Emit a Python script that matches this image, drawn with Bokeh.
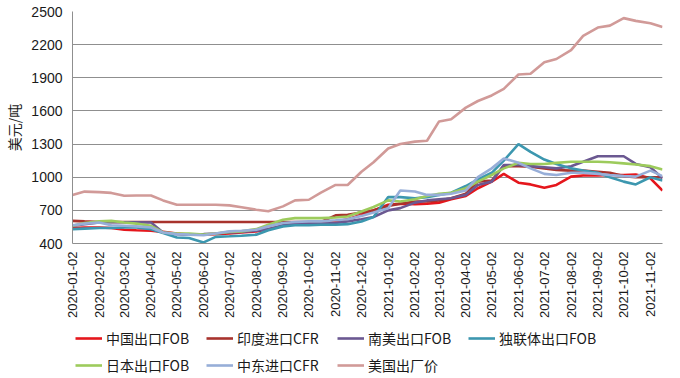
import math
import pandas as pd
from bokeh.plotting import figure
from bokeh.layouts import column
from bokeh.models import (FixedTicker, DatetimeTickFormatter, Legend, LegendItem,
                          Range1d, ColumnDataSource)
from bokeh.embed import file_html
from bokeh.resources import INLINE

dates = ["2020-01-02", "2020-01-16", "2020-02-02", "2020-02-16", "2020-03-02", "2020-03-16",
         "2020-04-02", "2020-04-16", "2020-05-02", "2020-05-16", "2020-06-02", "2020-06-16",
         "2020-07-02", "2020-07-16", "2020-08-02", "2020-08-16", "2020-09-02", "2020-09-16",
         "2020-10-02", "2020-10-16", "2020-11-02", "2020-11-16", "2020-12-02", "2020-12-16",
         "2021-01-02", "2021-01-16", "2021-02-02", "2021-02-16", "2021-03-02", "2021-03-16",
         "2021-04-02", "2021-04-16", "2021-05-02", "2021-05-16", "2021-06-02", "2021-06-16",
         "2021-07-02", "2021-07-16", "2021-08-02", "2021-08-16", "2021-09-02", "2021-09-16",
         "2021-10-02", "2021-10-16", "2021-11-02", "2021-11-16"]

china_fob = [540, 545, 545, 540, 525, 520, 515, 505, 490, 480, 480, 485, 490, 500, 510, 530,
             560, 575, 580, 585, 600, 620, 660, 700, 750, 760, 755, 760, 770, 800, 830, 900,
             960, 1030, 950, 935, 905, 930, 1005, 1015, 1015, 1020, 1020, 1025, 990, 880]
india_cfr = [605, 600, 595, 595, 595, 595, 595, 595, 595, 595, 595, 595, 595, 595, 595, 595,
             595, 595, 595, 595, 655, 660, 680, 700, 740, 760, 780, 780, 790, 810, 850, 960,
             970, 1100, 1100, 1095, 1080, 1065, 1060, 1060, 1050, 1040, 1010, 1000, 1000, 1000]
samerica_fob = [560, 575, 590, 592, 592, 592, 590, 500, 485, 480, 485, 490, 500, 505, 515, 530,
                565, 575, 580, 580, 585, 600, 620, 640, 700, 720, 770, 790, 800, 810, 840, 930,
                960, 1110, 1110, 1100, 1090, 1080, 1100, 1140, 1190, 1190, 1190, 1120, 1090, 990]
cis_fob = [530, 535, 540, 540, 545, 545, 530, 495, 455, 450, 410, 460, 465, 470, 480, 520,
           555, 565, 565, 570, 570, 575, 600, 640, 820, 820, 810, 820, 840, 860, 920, 980,
           1040, 1150, 1300, 1230, 1160, 1120, 1080, 1060, 1040, 1000, 960, 935, 1000, 970]
japan_fob = [560, 585, 600, 605, 590, 580, 560, 500, 490, 490, 480, 490, 505, 510, 530, 570,
             615, 630, 630, 630, 635, 645, 690, 730, 790, 780, 800, 830, 850, 860, 900, 960,
             1020, 1080, 1130, 1120, 1120, 1130, 1140, 1140, 1140, 1135, 1125, 1115, 1100, 1070]
mideast_cfr = [565, 580, 590, 565, 560, 555, 545, 500, 485, 480, 475, 490, 510, 515, 525, 555,
               585, 595, 600, 600, 610, 620, 650, 680, 720, 880, 870, 840, 840, 850, 880, 1000,
               1080, 1170, 1130, 1080, 1030, 1020, 1040, 1040, 1030, 1020, 1010, 1005, 1060, 1010]
us_price = [840, 870, 865, 858, 832, 835, 835, 790, 751, 751, 751, 751, 745, 728, 706, 692,
            736, 790, 796, 860, 930, 930, 1050, 1135, 1260, 1300, 1322, 1330, 1505, 1525, 1630, 1690,
            1740, 1800, 1930, 1936, 2040, 2070, 2150, 2280, 2355, 2372, 2440, 2415, 2394, 2359]

series_names = ["中国出口FOB", "印度进口CFR", "南美出口FOB", "独联体出口FOB",
                "日本出口FOB", "中东进口CFR", "美国出厂价"]
series_values = [china_fob, india_cfr, samerica_fob, cis_fob, japan_fob, mideast_cfr, us_price]
series_colors = ["#E5161C", "#A8332D", "#6B5891", "#3C97AF", "#9DCB5C", "#97AED8", "#D19A98"]

tick_dates = ["2020-01-02", "2020-02-02", "2020-03-02", "2020-04-02", "2020-05-02", "2020-06-02",
              "2020-07-02", "2020-08-02", "2020-09-02", "2020-10-02", "2020-11-02", "2020-12-02",
              "2021-01-02", "2021-02-02", "2021-03-02", "2021-04-02", "2021-05-02", "2021-06-02",
              "2021-07-02", "2021-08-02", "2021-09-02", "2021-10-02", "2021-11-02"]
y_ticks = [400, 700, 1000, 1300, 1600, 1900, 2200, 2500]

x = pd.to_datetime(dates)
tick_ms = [pd.Timestamp(d).value // 10**6 for d in tick_dates]

p = figure(width=680, height=320, x_axis_type="datetime", output_backend="svg",
           toolbar_location=None, min_border_left=72, min_border_right=18,
           min_border_top=11, min_border_bottom=74,
           x_range=Range1d(x[0], x[-1]), y_range=Range1d(400, 2500))

sources = []
for name, vals, col in zip(series_names, series_values, series_colors):
    src = ColumnDataSource(dict(x=x, y=vals))
    sources.append(src)
    p.line("x", "y", source=src, line_color=col, line_width=2.6)

p.outline_line_color = None
p.background_fill_color = "white"
p.xgrid.grid_line_color = None
p.ygrid.ticker = FixedTicker(ticks=y_ticks)
p.ygrid.grid_line_color = "#8f8f8f"
p.ygrid.grid_line_width = 1

p.yaxis.ticker = FixedTicker(ticks=y_ticks)
p.yaxis.axis_label = "美元/吨"
p.yaxis.axis_label_text_font = "Noto Sans CJK SC"
p.yaxis.axis_label_text_font_style = "normal"
p.yaxis.axis_label_text_font_size = "14px"
p.yaxis.axis_label_text_color = "#1a1a1a"
p.yaxis.axis_label_standoff = 4
p.yaxis.major_label_text_font = "Liberation Sans"
p.yaxis.major_label_text_font_size = "14px"
p.yaxis.major_label_text_color = "#1a1a1a"
p.yaxis.major_label_standoff = 10
p.yaxis.major_tick_out = 0
p.yaxis.major_tick_in = 0
p.yaxis.minor_tick_out = 0
p.yaxis.minor_tick_in = 0
p.yaxis.axis_line_color = "#8f8f8f"

p.xaxis.ticker = FixedTicker(ticks=tick_ms)
fmt = "%Y-%m-%d"
p.xaxis.formatter = DatetimeTickFormatter(microseconds=fmt, milliseconds=fmt, seconds=fmt,
                                          minsec=fmt, minutes=fmt, hourmin=fmt, hours=fmt,
                                          days=fmt, months=fmt, years=fmt)
p.xaxis.major_label_orientation = math.pi / 2
p.xaxis.major_label_text_font = "Liberation Sans"
p.xaxis.major_label_text_font_size = "13px"
p.xaxis.major_label_text_color = "#1a1a1a"
p.xaxis.major_label_standoff = 8
p.xaxis.major_tick_out = 0
p.xaxis.major_tick_in = 0
p.xaxis.minor_tick_out = 0
p.xaxis.minor_tick_in = 0
p.xaxis.axis_line_color = "#8f8f8f"

# legend panel: a second figure under the chart; its renderers reuse the series
# sources but lie outside its ranges, so only their legend glyphs are visible
p2 = figure(width=680, height=58, output_backend="svg", toolbar_location=None,
            min_border=0, x_axis_location=None, y_axis_location=None,
            x_range=Range1d(0, 1), y_range=Range1d(0, 1))
p2.outline_line_color = None
p2.grid.visible = False
items = []
for name, col, src in zip(series_names, series_colors, sources):
    r = p2.line("x", "y", source=src, line_color=col, line_width=2.6)
    items.append(LegendItem(label=name, renderers=[r]))

legend = Legend(items=items, location="bottom_left", orientation="horizontal", ncols=4,
                glyph_width=27, glyph_height=18, label_height=18, label_width=93,
                label_standoff=4, spacing=7, padding=0, margin=3,
                label_text_font="Noto Sans CJK SC", label_text_font_size="14px",
                label_text_color="#1a1a1a",
                border_line_alpha=0, background_fill_alpha=0)
p2.add_layout(legend, "center")

layout = column(p, p2, spacing=0)
open("out.html", "w").write(file_html(layout, INLINE))
